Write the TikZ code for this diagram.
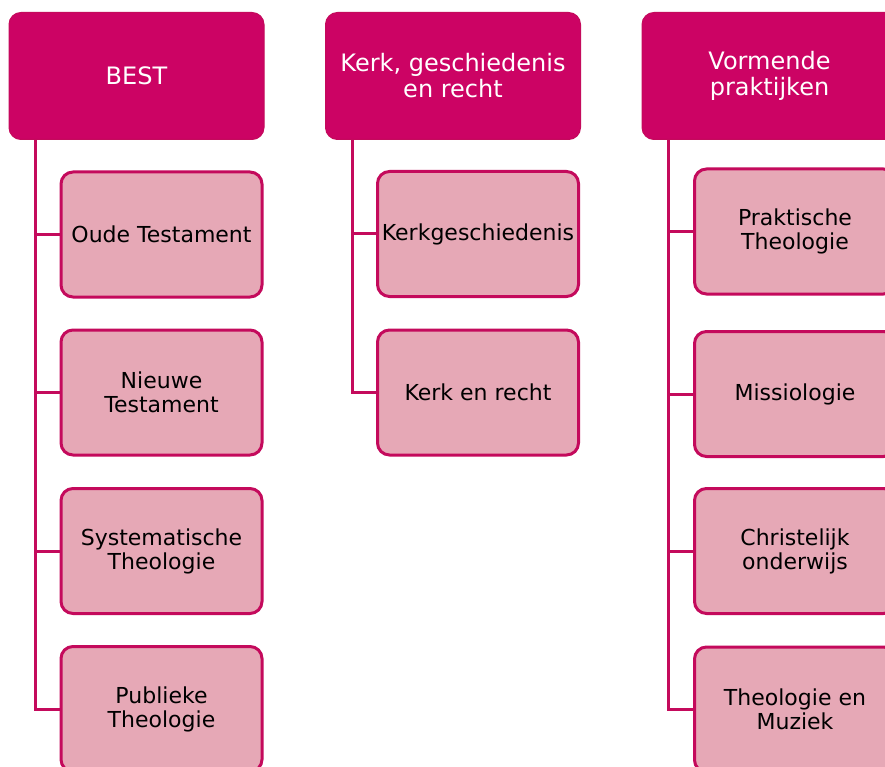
\documentclass[tikz,border=0pt]{standalone}
\usepackage{fontspec}
\setmainfont{DejaVu Sans}
\definecolor{mag}{RGB}{204,3,100}
\definecolor{magline}{RGB}{196,10,92}
\definecolor{pinkfill}{RGB}{230,168,182}
\tikzset{
  headbox/.style={rectangle, rounded corners=12pt, fill=mag, draw=magline, line width=1pt,
    minimum width=255pt, minimum height=127pt, text=white, align=center,
    font=\fontsize{24}{26}\selectfont, inner sep=0pt},
  childbox/.style={rectangle, rounded corners=12pt, fill=pinkfill, draw=magline, line width=3pt,
    minimum width=201pt, minimum height=125pt, text=black, align=center,
    font=\fontsize{22}{24}\selectfont, inner sep=0pt},
  conn/.style={draw=magline, line width=3pt}
}
\begin{document}
\begin{tikzpicture}[x=1pt,y=-1pt]
\clip (0,0) rectangle (885,767);
\fill[white] (0,0) rectangle (885,767);

% column 1
\node[headbox] (h1) at (136.5,76) {BEST};
\coordinate (t1) at (35,140);
\node[childbox] (c11) at (161.5,234.5) {Oude Testament};
\node[childbox] (c12) at (161.5,392.5) {Nieuwe\\Testament};
\node[childbox] (c13) at (161.5,551) {Systematische\\Theologie};
\node[childbox] (c14) at (161.5,709) {Publieke\\Theologie};

% column 2
\node[headbox] (h2) at (453,76) {Kerk, geschiedenis\\en recht};
\coordinate (t2) at (352,140);
\node[childbox] (c21) at (478,234) {Kerkgeschiedenis};
\node[childbox] (c22) at (478,392.5) {Kerk en recht};

% column 3
\node[headbox] (h3) at (769.5,76) {Vormende\\praktijken};
\coordinate (t3) at (668,140);
\node[childbox] (c31) at (795,231.5) {Praktische\\Theologie};
\node[childbox] (c32) at (795,394) {Missiologie};
\node[childbox] (c33) at (795,551) {Christelijk\\onderwijs};
\node[childbox] (c34) at (795,709.5) {Theologie en\\Muziek};

% connectors
\draw[conn] (t1) |- (c14.west);
\draw[conn] (c11.west -| t1) -- (c11.west);
\draw[conn] (c12.west -| t1) -- (c12.west);
\draw[conn] (c13.west -| t1) -- (c13.west);

\draw[conn] (t2) |- (c22.west);
\draw[conn] (c21.west -| t2) -- (c21.west);

\draw[conn] (t3) |- (c34.west);
\draw[conn] (c31.west -| t3) -- (c31.west);
\draw[conn] (c32.west -| t3) -- (c32.west);
\draw[conn] (c33.west -| t3) -- (c33.west);
\end{tikzpicture}
\end{document}
